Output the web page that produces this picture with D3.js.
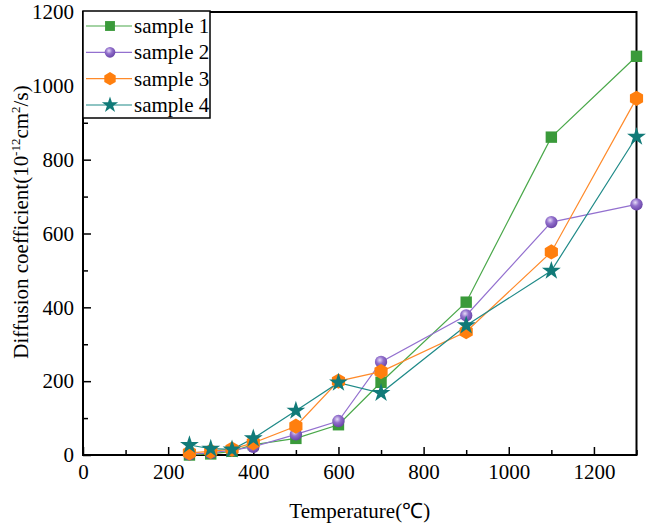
<!DOCTYPE html>
<html>
<head>
<meta charset="utf-8">
<script src="https://cdn.jsdelivr.net/npm/d3@7"></script>
<style>
  body { margin: 0; background: #fff; }
  svg { display: block; font-family: 'Liberation Serif', 'Times New Roman', serif; }
</style>
</head>
<body>
<div id="chart"></div>
<script>
const temps = [250, 300, 350, 400, 500, 600, 700, 900, 1100, 1300];
const sample1 = [0, 3, 10, 28, 45, 82, 197, 414, 861, 1080];
const sample2 = [2, 6, 13, 22, 56, 92, 252, 378, 631, 679];
const sample3 = [6, 10, 16, 33, 78, 200, 226, 334, 550, 966];
const sample4 = [27, 17, 15, 45, 120, 196, 168, 351, 499, 862];
const seriesNames = ['sample 1', 'sample 2', 'sample 3', 'sample 4'];
const xTicks = [0, 100, 200, 300, 400, 500, 600, 700, 800, 900, 1000, 1100, 1200, 1300];
const yTicks = [0, 100, 200, 300, 400, 500, 600, 700, 800, 900, 1000, 1100, 1200];

const width = 646, height = 526;
const margin = { top: 12, right: 9.5, bottom: 71, left: 83 };

const x = d3.scaleLinear().domain([0, 1300]).range([margin.left, width - margin.right]);
const y = d3.scaleLinear().domain([0, 1200]).range([height - margin.bottom, margin.top]);

// custom hexagon symbol for sample 3
const hexagon = {
  draw(ctx, size) {
    const r = Math.sqrt(size / (1.5 * Math.sqrt(3)));
    for (let i = 0; i < 6; i++) {
      const a = Math.PI / 6 + i * Math.PI / 3;
      const px = r * Math.cos(a), py = r * Math.sin(a);
      if (i === 0) ctx.moveTo(px, py); else ctx.lineTo(px, py);
    }
    ctx.closePath();
  }
};

const series = [
  { name: seriesNames[0], values: sample1, line: '#4aa84a', fill: '#3a9a3a', symbol: d3.symbolSquare, size: 130 },
  { name: seriesNames[1], values: sample2, line: '#9370cf', fill: 'url(#ball)', symbol: d3.symbolCircle, size: 120 },
  { name: seriesNames[2], values: sample3, line: '#ff8a2a', fill: '#ff7f0e', symbol: hexagon, size: 150 },
  { name: seriesNames[3], values: sample4, line: '#1f8a88', fill: '#117a78', symbol: d3.symbolStar, size: 110 }
];

const svg = d3.select('#chart')
  .append('svg')
  .attr('width', width)
  .attr('height', height);

const defs = svg.append('defs');
const grad = defs.append('radialGradient')
  .attr('id', 'ball')
  .attr('cx', '40%').attr('cy', '35%').attr('r', '65%');
grad.append('stop').attr('offset', '0%').attr('stop-color', '#e6dcf7');
grad.append('stop').attr('offset', '45%').attr('stop-color', '#9270cc');
grad.append('stop').attr('offset', '100%').attr('stop-color', '#6a45a8');

// axes (ticks point inward)
let xAxis = g => g
  .attr('transform', `translate(0,${y(0)})`)
  .call(d3.axisBottom(x).tickValues(xTicks).tickSize(-8).tickPadding(9)
    .tickFormat(d => (d % 200 === 0 && d <= 1200) ? d : ''))
  .call(g => g.selectAll('.tick line')
    .attr('y2', d => d % 200 === 0 ? -8 : -5)
    .attr('stroke-width', 1.5))
  .call(g => g.select('.domain').remove())
  .call(g => g.selectAll('.tick text').attr('font-size', 21).attr('fill', '#000')
    .attr('font-family', 'Liberation Serif'));

let yAxis = g => g
  .attr('transform', `translate(${x(0)},0)`)
  .call(d3.axisLeft(y).tickValues(yTicks).tickSize(-8).tickPadding(9)
    .tickFormat(d => d % 200 === 0 ? d : ''))
  .call(g => g.selectAll('.tick line')
    .attr('x2', d => d % 200 === 0 ? 8 : 5)
    .attr('stroke-width', 1.5))
  .call(g => g.select('.domain').remove())
  .call(g => g.selectAll('.tick text').attr('font-size', 21).attr('fill', '#000')
    .attr('font-family', 'Liberation Serif'));

svg.append('g').call(xAxis);
svg.append('g').call(yAxis);

// frame
svg.append('rect')
  .attr('x', x(0))
  .attr('y', y(1200))
  .attr('width', x(1300) - x(0))
  .attr('height', y(0) - y(1200))
  .attr('fill', 'none')
  .attr('stroke', '#000')
  .attr('stroke-width', 2);

// lines and markers
let line = d3.line()
  .x((d, i) => x(temps[i]))
  .y(d => y(d));

series.forEach(s => {
  svg.append('path')
    .datum(s.values)
    .attr('fill', 'none')
    .attr('stroke', s.line)
    .attr('stroke-width', 1.2)
    .attr('d', line);
});

series.forEach(s => {
  svg.append('g')
    .selectAll('path')
    .data(s.values)
    .join('path')
    .attr('transform', (d, i) => `translate(${x(temps[i])},${y(d)})`)
    .attr('d', d3.symbol(s.symbol, s.size))
    .attr('fill', s.fill);
});

// axis titles
svg.append('text')
  .attr('x', (x(0) + x(1300)) / 2)
  .attr('y', 518)
  .attr('text-anchor', 'middle')
  .attr('font-size', 21)
  .text('Temperature(℃)');

let yTitle = svg.append('text')
  .attr('transform', 'translate(28,222) rotate(-90)')
  .attr('text-anchor', 'middle')
  .attr('font-size', 21);
yTitle.append('tspan').text('Diffusion coefficient(10');
yTitle.append('tspan').attr('font-size', 13).attr('dy', -8).text('-12');
yTitle.append('tspan').attr('dy', 8).text('cm');
yTitle.append('tspan').attr('font-size', 13).attr('dy', -8).text('2');
yTitle.append('tspan').attr('dy', 8).text('/s)');

// legend
const legend = svg.append('g');
legend.append('rect')
  .attr('x', x(0))
  .attr('y', 11)
  .attr('width', 127)
  .attr('height', 107)
  .attr('fill', '#fff')
  .attr('stroke', '#000')
  .attr('stroke-width', 1.5);

const rowY = d3.scalePoint().domain(seriesNames).range([26, 105]);

series.forEach(s => {
  const ry = rowY(s.name);
  legend.append('line')
    .attr('x1', 86).attr('x2', 132)
    .attr('y1', ry).attr('y2', ry)
    .attr('stroke', s.line)
    .attr('stroke-width', 1.2);
  legend.append('path')
    .attr('transform', `translate(110,${ry})`)
    .attr('d', d3.symbol(s.symbol, s.size * 0.75))
    .attr('fill', s.fill);
  legend.append('text')
    .attr('x', 134)
    .attr('y', ry + 7)
    .attr('font-size', 21)
    .text(s.name);
});
</script>
</body>
</html>
